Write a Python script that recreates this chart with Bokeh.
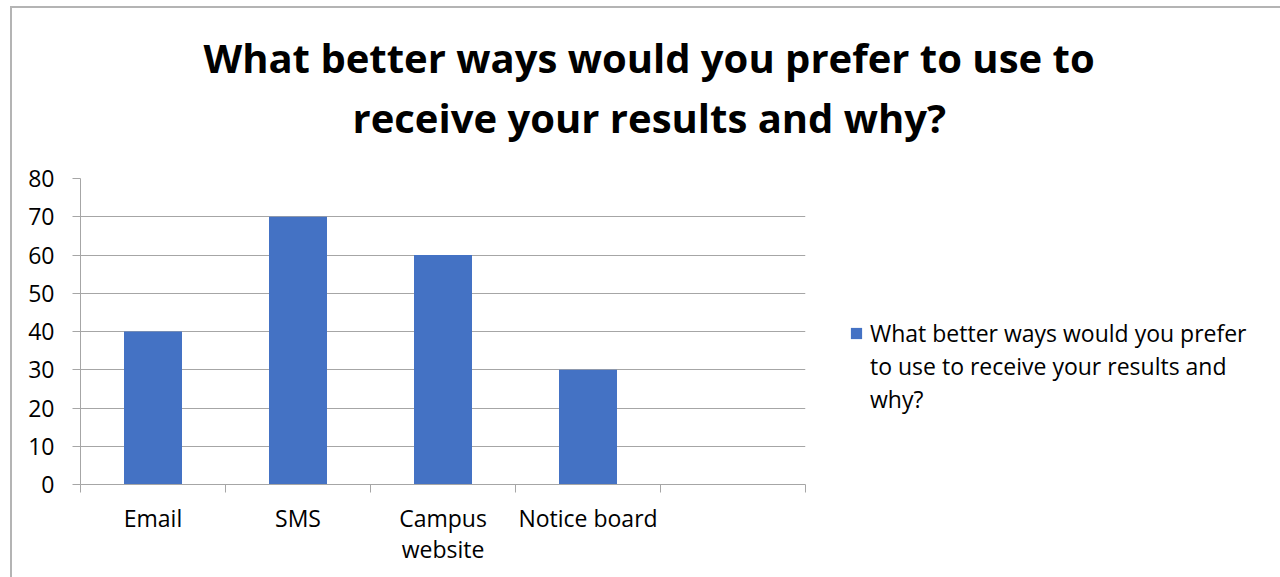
import json
from bokeh.plotting import figure
from bokeh.models import (FactorRange, Range1d, LinearAxis, CategoricalAxis,
                          FixedTicker, Title, Legend, LegendItem, CustomJSTickFormatter)
from bokeh.embed import file_html
from bokeh.resources import INLINE

# ---- data ----
categories = ["Email", "SMS", "Campus website", "Notice board", ""]
values = [40, 70, 60, 30, 0]
y_ticks = [0, 10, 20, 30, 40, 50, 60, 70, 80]
title_lines = ["What better ways would you prefer to use to",
               "receive your results and why?"]
legend_lines = ["What better ways would you prefer",
                "to use to receive your results and",
                "why?"]
label_line1 = {"Email": "Email", "SMS": "SMS", "Campus website": "Campus",
               "Notice board": "Notice board", "": ""}
label_line2 = {"Email": "", "SMS": "", "Campus website": "website",
               "Notice board": "", "": ""}

FONT = "Open Sans"
GRAY = "#a6a6a6"
TXT = "23px"

p = figure(frame_width=725, frame_height=306, output_backend="svg", toolbar_location=None,
           x_range=FactorRange(*categories), y_range=Range1d(0, 80),
           x_axis_location=None,
           min_border_left=68, min_border_right=50,
           min_border_top=170, min_border_bottom=93)
p.outline_line_color = None
p.background_fill_color = "white"
p.border_fill_color = "white"
p.styles = {"margin-left": "10px", "margin-top": "6px",
            "border-left": "2px solid #b4b4b4", "border-top": "2px solid #b4b4b4"}

bars = p.vbar(x=categories, top=values, width=0.4, fill_color="#4472C4",
              line_color=None)
# invisible renderers only used to carry the wrapped legend lines
blank1 = p.vbar(x=[], top=[], width=0.4, fill_alpha=0, line_alpha=0)
blank2 = p.vbar(x=[], top=[], width=0.4, fill_alpha=0, line_alpha=0)

# y axis
ya = p.yaxis[0]
ya.ticker = FixedTicker(ticks=y_ticks)
ya.axis_line_color = GRAY
ya.major_tick_line_color = GRAY
ya.major_tick_out = 8
ya.major_tick_in = 0
ya.minor_tick_line_color = None
ya.major_label_standoff = 18
ya.major_label_text_font = FONT
ya.major_label_text_font_size = TXT
ya.major_label_text_color = "#000000"

p.ygrid.grid_line_color = GRAY
for g in p.xgrid:
    g.visible = False

# boundary ticks between categories (synthetic coordinates of the factor range)
bx = LinearAxis(ticker=FixedTicker(ticks=list(range(len(categories) + 1))))
bx.axis_line_color = GRAY
bx.major_tick_line_color = GRAY
bx.major_tick_out = 8
bx.major_tick_in = 0
bx.minor_tick_line_color = None
bx.major_label_text_font_size = "0px"
bx.major_label_standoff = 0
p.add_layout(bx, "below")

def cat_axis(mapping, standoff):
    ax = CategoricalAxis()
    ax.formatter = CustomJSTickFormatter(
        code="const m = %s; return (tick in m) ? m[tick] : tick;" % json.dumps(mapping))
    ax.axis_line_color = None
    ax.major_tick_line_color = None
    ax.minor_tick_line_color = None
    ax.major_tick_out = 0
    ax.major_tick_in = 0
    ax.major_label_standoff = standoff
    ax.major_label_text_font = FONT
    ax.major_label_text_font_size = TXT
    ax.major_label_text_color = "#000000"
    return ax

p.add_layout(cat_axis(label_line1, 9), "below")
p.add_layout(cat_axis(label_line2, -4), "below")

# spacer between the frame and the title lines
spacer = LinearAxis(ticker=FixedTicker(ticks=[0]), axis_line_color=None,
                    major_tick_line_color=None, minor_tick_line_color=None,
                    major_tick_out=34, major_tick_in=0, major_label_standoff=0,
                    major_label_text_font_size="0px")
p.add_layout(spacer, "above")

# title: two lines, outer line is the figure's own title
p.title.text = title_lines[0]
p.title.align = "left"
p.title.offset = 123
p.title.text_font = FONT
p.title.text_font_style = "bold"
p.title.text_font_size = "40px"
p.title.text_color = "#000000"
p.title.standoff = 6
t2 = Title(text=title_lines[1], align="left", offset=272, text_font=FONT,
           text_font_style="bold", text_font_size="40px", text_color="#000000",
           standoff=0)
p.add_layout(t2, "above")

items = [LegendItem(label=legend_lines[0], renderers=[bars]),
         LegendItem(label=legend_lines[1], renderers=[blank1]),
         LegendItem(label=legend_lines[2], renderers=[blank2])]
lg = Legend(items=items, location=(44, 69), padding=0, margin=0,
            border_line_color=None, background_fill_alpha=0,
            glyph_width=14, glyph_height=14, label_standoff=7,
            label_text_font=FONT, label_text_font_size=TXT,
            label_text_color="#000000", label_height=30, spacing=1)
p.add_layout(lg, "right")

open("out.html", "w").write(file_html(p, INLINE))
